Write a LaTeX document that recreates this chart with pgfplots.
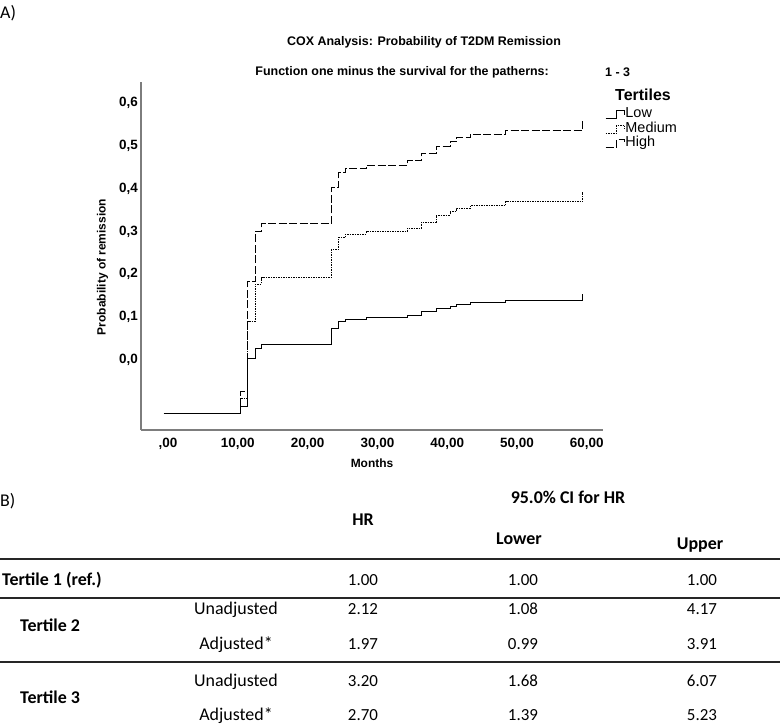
\documentclass[border=0pt]{standalone}
\usepackage{fontspec}
\setmainfont{Liberation Sans}
\newfontfamily\tabfont{Carlito}
\usepackage{pgfplots}
\pgfplotsset{compat=1.18}
\definecolor{axgray}{RGB}{125,125,125}
\begin{document}
\begin{tikzpicture}
\path[use as bounding box] (0,0) rectangle (780bp,-724bp);
\node[anchor=base west, inner sep=0pt, font=\tabfont\fontsize{18}{18}\selectfont] at (0bp,-18bp) {A)};
\node[font=\bfseries\fontsize{12.5}{12.5}\selectfont, inner sep=0pt] at (424bp,-42bp) {COX Analysis: Probability of T2DM Remission};
\node[font=\bfseries\fontsize{12.5}{12.5}\selectfont, inner sep=0pt, anchor=east] at (549bp,-72bp) {Function one minus the survival for the patherns:};
\node[font=\bfseries\fontsize{12.5}{12.5}\selectfont, inner sep=0pt, anchor=west] at (605bp,-72bp) {1 - 3};
\node[font=\bfseries\fontsize{16}{16}\selectfont, inner sep=0pt, anchor=west] at (615bp,-95bp) {Tertiles};
\begin{axis}[
  at={(141bp,-430bp)}, anchor=south west,
  scale only axis, width=462bp, height=348.3bp,
  xmin=-3.87, xmax=62.32, ymin=-0.163, ymax=0.649,
  axis x line*=bottom, axis y line*=left,
  axis line style={-, draw=axgray, line width=1.4bp},
  x axis line style={-}, y axis line style={-},
  major tick length=0pt,
  xtick={0,10,20,30,40,50,60},
  xticklabels={{,00},{10,00},{20,00},{30,00},{40,00},{50,00},{60,00}},
  ytick={0,0.1,0.2,0.3,0.4,0.5,0.6},
  yticklabels={{0,0},{0,1},{0,2},{0,3},{0,4},{0,5},{0,6}},
  tick label style={font=\bfseries\fontsize{13.5}{13.5}\selectfont},
  xticklabel style={inner sep=0pt, yshift=-7.5bp},
  yticklabel style={inner sep=0pt, xshift=-3bp},
  xlabel={Months}, ylabel={Probability of remission},
  label style={font=\bfseries\fontsize{12}{12}\selectfont},
  xlabel style={at={(axis description cs:0.5,-0.095)}, anchor=center},
  ylabel style={at={(axis description cs:-0.083,0.468)}, anchor=center},
  legend style={at={(axis description cs:1.004,0.927)}, anchor=north west, draw=none, fill=none,
    font=\fontsize{14.5}{14.5}\selectfont, inner sep=0pt, row sep=0pt,
    nodes={inner sep=0.5bp, text height=10bp, text depth=3.5bp}},
  legend cell align=left,
  legend image code/.code={\draw[#1] (0bp,-4bp) -- (11bp,-4bp) -- (11bp,4bp) -- (19bp,4bp) -- (19bp,0bp);},
]
\addplot[const plot, black, line width=0.9bp] coordinates {
(-0.6,-0.124) (10.4,-0.107) (11.4,0.004) (12.5,0.027) (13.4,0.037) (23.4,0.074)
(24.4,0.091) (25.4,0.095) (28.4,0.0995) (34.3,0.103) (36.3,0.1126) (38.4,0.1205)
(40.4,0.125) (41.3,0.1305) (43.3,0.135) (48.4,0.140) (59.4,0.140) (59.4,0.154)};
\addlegendentry{Low}
\addplot[const plot, black, line width=0.9bp, dash pattern=on 1.5bp off 1bp] coordinates {
(-0.6,-0.124) (10.4,-0.089) (11.4,0.091) (12.5,0.177) (13.4,0.192) (23.4,0.257)
(24.4,0.285) (25.4,0.294) (28.4,0.299) (34.3,0.308) (36.3,0.322) (38.4,0.338)
(40.4,0.346) (41.3,0.354) (43.3,0.360) (48.4,0.369) (59.4,0.369) (59.4,0.392)};
\addlegendentry{Medium}
\addplot[const plot, black, line width=0.9bp, dash pattern=on 8bp off 2.5bp] coordinates {
(-0.6,-0.124) (10.4,-0.074) (11.4,0.184) (12.5,0.299) (13.4,0.318) (23.4,0.402)
(24.4,0.437) (25.4,0.447) (28.4,0.4545) (34.3,0.4646) (36.3,0.482) (38.4,0.499)
(40.4,0.509) (41.3,0.518) (43.3,0.527) (48.4,0.536) (59.4,0.536) (59.4,0.563)};
\addlegendentry{High}
\end{axis}
% ---- table B ----
\tikzset{tb/.style={anchor=base, inner sep=0pt, font=\tabfont\fontsize{18}{18}\selectfont},
         tn/.style={anchor=base, inner sep=0pt, font=\tabfont\fontsize{17}{17}\selectfont},
         tbb/.style={tb, font=\tabfont\bfseries\fontsize{18}{18}\selectfont}}
\node[tb, anchor=base west] at (0bp,-506bp) {B)};
\node[tbb] at (568bp,-503bp) {95.0\% CI for HR};
\node[tbb] at (363bp,-525bp) {HR};
\node[tbb] at (519bp,-544bp) {Lower};
\node[tbb] at (700bp,-549bp) {Upper};
\draw[line width=1.8bp, black!85] (0bp,-559bp) -- (780bp,-559bp);
\node[tbb, anchor=base west] at (2bp,-585bp) {Tertile 1 (ref.)};
\node[tn] at (363bp,-585bp) {1.00};
\node[tn] at (523bp,-585bp) {1.00};
\node[tn] at (702bp,-585bp) {1.00};
\draw[line width=1.8bp, black!85] (0bp,-598bp) -- (780bp,-598bp);
\node[tb] at (236bp,-614bp) {Unadjusted};
\node[tn] at (363bp,-614bp) {2.12};
\node[tn] at (523bp,-614bp) {1.08};
\node[tn] at (702bp,-614bp) {4.17};
\node[tbb, anchor=base west] at (20bp,-631bp) {Tertile 2};
\node[tb] at (236bp,-649bp) {Adjusted*};
\node[tn] at (363bp,-649bp) {1.97};
\node[tn] at (523bp,-649bp) {0.99};
\node[tn] at (702bp,-649bp) {3.91};
\draw[line width=1.8bp, black!85] (0bp,-662bp) -- (780bp,-662bp);
\node[tb] at (236bp,-686bp) {Unadjusted};
\node[tn] at (363bp,-686bp) {3.20};
\node[tn] at (523bp,-686bp) {1.68};
\node[tn] at (702bp,-686bp) {6.07};
\node[tbb, anchor=base west] at (20bp,-703bp) {Tertile 3};
\node[tb] at (236bp,-720bp) {Adjusted*};
\node[tn] at (363bp,-720bp) {2.70};
\node[tn] at (523bp,-720bp) {1.39};
\node[tn] at (702bp,-720bp) {5.23};
\end{tikzpicture}
\end{document}
